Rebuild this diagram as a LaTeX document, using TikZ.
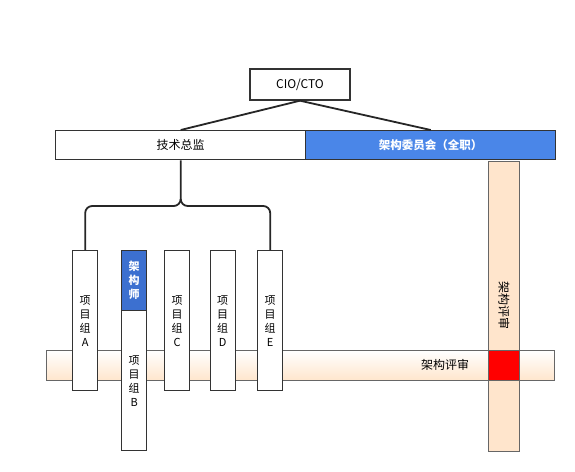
\documentclass[tikz,border=0pt]{standalone}
\usepackage{fontspec}
\setmainfont{Noto Sans CJK SC}
\begin{document}
\begin{tikzpicture}[x=1pt,y=-1pt,
  box/.style={draw=black!80,line width=1.4pt,fill=white,inner sep=0pt,font=\fontsize{12}{14}\selectfont},
  proj/.style={box,minimum width=25pt,minimum height=140pt,align=center,font=\fontsize{11}{14}\selectfont},
  bar/.style={draw=black!60,line width=1.2pt,inner sep=0pt},
  conn/.style={line width=1.8pt,draw=black!85},
]
\useasboundingbox (0,0) rectangle (575,471);
% horizontal review bar
\node[bar,minimum width=508pt,minimum height=30pt,top color=white,bottom color=orange!20,shading angle=0,anchor=north west] (hbar) at (46,350) {};
\node[font=\fontsize{12}{14}\selectfont] (htext) at (445,365) {架构评审};
% vertical review bar
\node[bar,fill=orange!20,minimum width=31pt,minimum height=290pt,anchor=north west] (vbar) at (488,161) {};
\node[rotate=-90,font=\fontsize{12}{14}\selectfont] (vtext) at (504,305) {架构评审};
\node[bar,fill=red,minimum width=31pt,minimum height=30pt,anchor=north west] (cross) at (488,350) {};
% top
\node[box,minimum width=100pt,minimum height=31pt] (cio) at (300,84.5) {CIO/CTO};
\node[box,minimum width=250pt,minimum height=29pt,anchor=north west] (tech) at (55,130) {技术总监};
\node[box,fill={rgb,255:red,74;green,134;blue,232},text=white,minimum width=250pt,minimum height=29pt,anchor=north west,font=\fontsize{11.5}{14}\selectfont\bfseries] (comm) at (305,130) {架构委员会（全职）};
\draw[conn] (cio.south) -- (tech.north);
\draw[conn] (cio.south) -- (comm.north);
% project groups
\node[proj,anchor=north west] (pa) at (72,250) {项\\目\\组\\A};
\node[box,fill={rgb,255:red,60;green,112;blue,208},text=white,minimum width=25pt,minimum height=60pt,anchor=north west,align=center,font=\fontsize{11}{14}\selectfont\bfseries] (arch) at (121,250) {架\\构\\师};
\node[proj,anchor=north west] (pb) at (121,310) {项\\目\\组\\B};
\node[proj,anchor=north west] (pc) at (164,250) {项\\目\\组\\C};
\node[proj,anchor=north west] (pd) at (209.5,250) {项\\目\\组\\D};
\node[proj,anchor=north west] (pe) at (257,250) {项\\目\\组\\E};
% brace
\coordinate (br) at (tech.south |- 0,206);
\draw[conn] (tech.south) -- ([yshift=7pt]br) to[out=-90,in=0] ([xshift=-7pt]br) -- ([xshift=7pt]br -| pa.north) to[out=180,in=90] ([yshift=-7pt]br -| pa.north) -- (pa.north);
\draw[conn] ([yshift=7pt]br) to[out=-90,in=180] ([xshift=7pt]br) -- ([xshift=-7pt]br -| pe.north) to[out=0,in=90] ([yshift=-7pt]br -| pe.north) -- (pe.north);
\end{tikzpicture}
\end{document}
